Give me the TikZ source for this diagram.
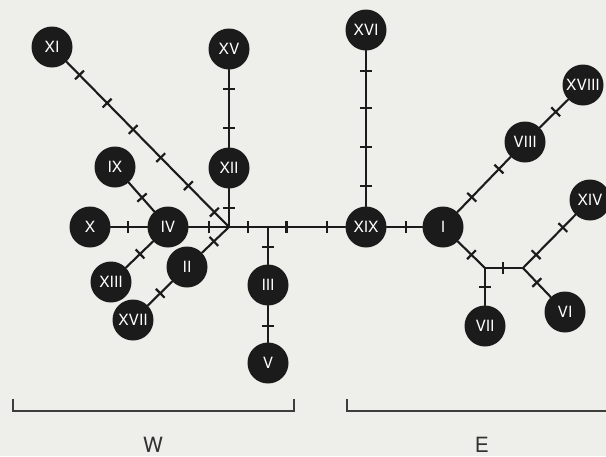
\documentclass[tikz,border=0pt]{standalone}
\usepackage{fontspec}
\setmainfont{TeX Gyre Heros}
\definecolor{bg}{HTML}{EEEEEA}
\definecolor{ink}{HTML}{1B1B1B}
\begin{document}
\begin{tikzpicture}[x=1pt,y=-1pt,
  hap/.style={circle, fill=ink, text=white, minimum size=41pt, inner sep=0pt, font=\fontsize{15.5}{15.5}\selectfont},
  edge/.style={draw=ink, line width=2.1pt, line cap=round},
  tk/.style={sloped, fill=ink, rectangle, minimum width=2.2pt, minimum height=12.5pt, inner sep=0pt, outer sep=0pt},
  brk/.style={draw=ink!85, line width=1.2pt},
  grp/.style={font=\fontsize{21}{21}\selectfont, text=ink!90}]
\fill[bg] (0,0) rectangle (606,456);
\useasboundingbox (0,0) rectangle (606,456);
% haplotypes
\node[hap] (XI) at (52,47) {XI};
\node[hap] (XV) at (229,49) {XV};
\node[hap] (IX) at (115,167) {IX};
\node[hap] (XII) at (229,168) {XII};
\node[hap] (X) at (90,227) {X};
\node[hap] (IV) at (168,227) {IV};
\node[hap] (XIII) at (111,282) {XIII};
\node[hap] (II) at (187,267) {II};
\node[hap] (XVII) at (133,320) {XVII};
\node[hap] (III) at (268,285) {III};
\node[hap] (V) at (268,363) {V};
\node[hap] (XIX) at (366,227) {XIX};
\node[hap] (XVI) at (366,30) {XVI};
\node[hap] (I) at (443,227) {I};
\node[hap] (VIII) at (525,142) {VIII};
\node[hap] (XVIII) at (583,85) {XVIII};
\node[hap] (XIV) at (590,200) {XIV};
\node[hap] (VII) at (485,326) {VII};
\node[hap] (VI) at (565,312) {VI};
% median vectors
\coordinate (A) at (229,227);
\coordinate (B) at (268,227);
\coordinate (C) at (485,268);
\coordinate (D) at (523,268);
% edges with mutation ticks
\draw[edge] (XI) -- (A) node[tk,pos=.08]{} node[tk,pos=.25]{} node[tk,pos=.41]{} node[tk,pos=.58]{} node[tk,pos=.75]{} node[tk,pos=.91]{};
\draw[edge] (XV) -- (XII) node[tk,pos=.25]{} node[tk,pos=.75]{};
\draw[edge] (XII) -- (A) node[tk,pos=.5]{};
\draw[edge] (IX) -- (IV) node[tk,pos=.52]{};
\draw[edge] (X) -- (IV) node[tk,pos=.47]{};
\draw[edge] (IV) -- (A) node[tk,pos=.5]{};
\draw[edge] (IV) -- (XIII) node[tk,pos=.48]{};
\draw[edge] (A) -- (II) node[tk,pos=.56]{};
\draw[edge] (II) -- (XVII) node[tk,pos=.49]{};
\draw[edge] (A) -- (B) node[tk,pos=.49]{};
\draw[edge] (B) -- (XIX) node[tk,pos=.24]{} node[tk,pos=.76]{};
\draw[edge] (B) -- (III) node[tk,pos=.53]{};
\draw[edge] (III) -- (V) node[tk,pos=.55]{};
\draw[edge] (XVI) -- (XIX) node[tk,pos=.13]{} node[tk,pos=.37]{} node[tk,pos=.62]{} node[tk,pos=.87]{};
\draw[edge] (XIX) -- (I) node[tk,pos=.54]{};
\draw[edge] (I) -- (VIII) node[tk,pos=.27]{} node[tk,pos=.78]{};
\draw[edge] (VIII) -- (XVIII) node[tk,pos=.56]{};
\draw[edge] (I) -- (C) node[tk,pos=.5]{};
\draw[edge] (C) -- (VII) node[tk,pos=.5]{};
\draw[edge] (C) -- (D) node[tk,pos=.47]{};
\draw[edge] (D) -- (XIV) node[tk,pos=.25]{} node[tk,pos=.76]{};
\draw[edge] (D) -- (VI) node[tk,pos=.5]{};
% groups
\coordinate (w1) at (13,399);
\coordinate (w2) at (13,411);
\coordinate (w3) at (294,411);
\coordinate (w4) at (294,399);
\draw[brk] (w1) -- (w2) -- (w3) -- (w4);
\node[grp] (W) at (153,445) {W};
\coordinate (e1) at (347,399);
\coordinate (e2) at (347,411);
\coordinate (e3) at (606,411);
\draw[brk] (e1) -- (e2) -- (e3);
\node[grp] (E) at (482,445) {E};
\end{tikzpicture}
\end{document}
